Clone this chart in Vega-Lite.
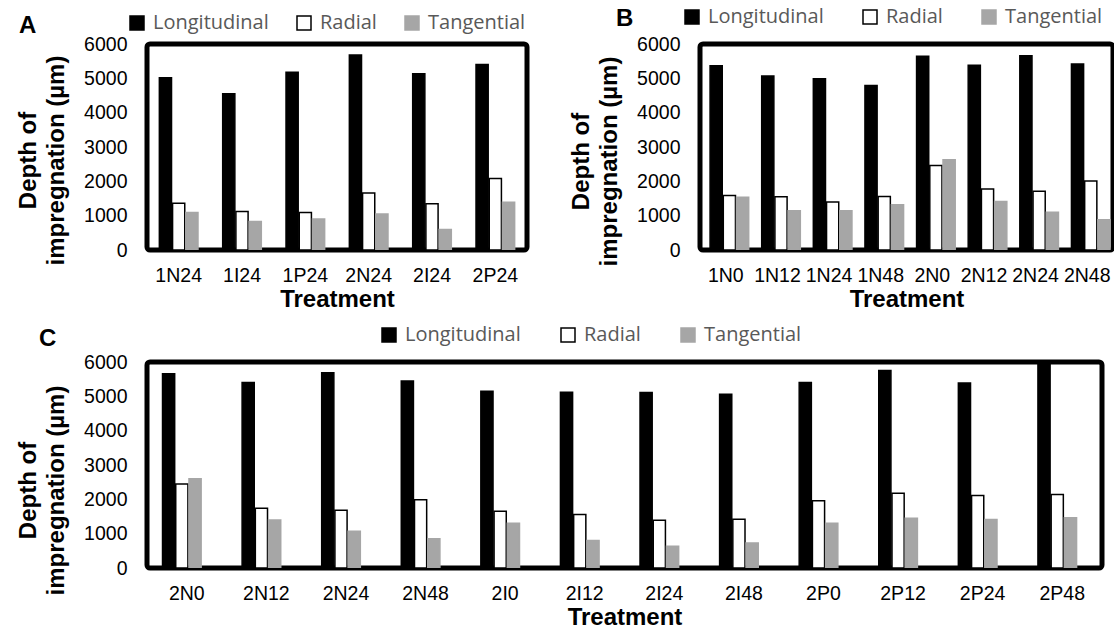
{
  "$schema": "https://vega.github.io/schema/vega-lite/v6.json",
  "padding": {"left": 14, "top": 4, "right": 0, "bottom": 0},
  "background": "white",
  "datasets": {
    "A": [
      {"t":"1N24","d":"Longitudinal","v":5020},{"t":"1N24","d":"Radial","v":1360},{"t":"1N24","d":"Tangential","v":1090},
      {"t":"1I24","d":"Longitudinal","v":4550},{"t":"1I24","d":"Radial","v":1120},{"t":"1I24","d":"Tangential","v":830},
      {"t":"1P24","d":"Longitudinal","v":5180},{"t":"1P24","d":"Radial","v":1090},{"t":"1P24","d":"Tangential","v":900},
      {"t":"2N24","d":"Longitudinal","v":5680},{"t":"2N24","d":"Radial","v":1660},{"t":"2N24","d":"Tangential","v":1050},
      {"t":"2I24","d":"Longitudinal","v":5130},{"t":"2I24","d":"Radial","v":1350},{"t":"2I24","d":"Tangential","v":600},
      {"t":"2P24","d":"Longitudinal","v":5400},{"t":"2P24","d":"Radial","v":2080},{"t":"2P24","d":"Tangential","v":1390}
    ],
    "B": [
      {"t":"1N0","d":"Longitudinal","v":5370},{"t":"1N0","d":"Radial","v":1590},{"t":"1N0","d":"Tangential","v":1540},
      {"t":"1N12","d":"Longitudinal","v":5070},{"t":"1N12","d":"Radial","v":1550},{"t":"1N12","d":"Tangential","v":1140},
      {"t":"1N24","d":"Longitudinal","v":4990},{"t":"1N24","d":"Radial","v":1400},{"t":"1N24","d":"Tangential","v":1140},
      {"t":"1N48","d":"Longitudinal","v":4790},{"t":"1N48","d":"Radial","v":1560},{"t":"1N48","d":"Tangential","v":1320},
      {"t":"2N0","d":"Longitudinal","v":5640},{"t":"2N0","d":"Radial","v":2460},{"t":"2N0","d":"Tangential","v":2630},
      {"t":"2N12","d":"Longitudinal","v":5380},{"t":"2N12","d":"Radial","v":1780},{"t":"2N12","d":"Tangential","v":1410},
      {"t":"2N24","d":"Longitudinal","v":5660},{"t":"2N24","d":"Radial","v":1710},{"t":"2N24","d":"Tangential","v":1100},
      {"t":"2N48","d":"Longitudinal","v":5420},{"t":"2N48","d":"Radial","v":2010},{"t":"2N48","d":"Tangential","v":880}
    ],
    "C": [
      {"t":"2N0","d":"Longitudinal","v":5660},{"t":"2N0","d":"Radial","v":2450},{"t":"2N0","d":"Tangential","v":2600},
      {"t":"2N12","d":"Longitudinal","v":5400},{"t":"2N12","d":"Radial","v":1740},{"t":"2N12","d":"Tangential","v":1400},
      {"t":"2N24","d":"Longitudinal","v":5690},{"t":"2N24","d":"Radial","v":1680},{"t":"2N24","d":"Tangential","v":1070},
      {"t":"2N48","d":"Longitudinal","v":5450},{"t":"2N48","d":"Radial","v":1990},{"t":"2N48","d":"Tangential","v":850},
      {"t":"2I0","d":"Longitudinal","v":5150},{"t":"2I0","d":"Radial","v":1650},{"t":"2I0","d":"Tangential","v":1300},
      {"t":"2I12","d":"Longitudinal","v":5120},{"t":"2I12","d":"Radial","v":1560},{"t":"2I12","d":"Tangential","v":800},
      {"t":"2I24","d":"Longitudinal","v":5110},{"t":"2I24","d":"Radial","v":1390},{"t":"2I24","d":"Tangential","v":630},
      {"t":"2I48","d":"Longitudinal","v":5060},{"t":"2I48","d":"Radial","v":1420},{"t":"2I48","d":"Tangential","v":730},
      {"t":"2P0","d":"Longitudinal","v":5400},{"t":"2P0","d":"Radial","v":1960},{"t":"2P0","d":"Tangential","v":1300},
      {"t":"2P12","d":"Longitudinal","v":5750},{"t":"2P12","d":"Radial","v":2180},{"t":"2P12","d":"Tangential","v":1450},
      {"t":"2P24","d":"Longitudinal","v":5390},{"t":"2P24","d":"Radial","v":2110},{"t":"2P24","d":"Tangential","v":1410},
      {"t":"2P48","d":"Longitudinal","v":6300},{"t":"2P48","d":"Radial","v":2140},{"t":"2P48","d":"Tangential","v":1460}
    ]
  },
  "vconcat": [
    {
      "hconcat": [
        {
          "data": {"name": "A"},
          "width": 380, "height": 206,
          "title": {"text": "A", "dx": -128, "dy": 29},
          "mark": {"type": "bar", "strokeWidth": 1.5, "clip": true},
          "encoding": {
            "x": {"field": "t", "type": "nominal", "sort": null, "scale": {"paddingInner": 0.39, "paddingOuter": 0.195}, "axis": {"title": "Treatment"}},
            "xOffset": {"field": "d", "type": "nominal", "sort": ["Longitudinal","Radial","Tangential"], "scale": {"paddingInner": 0.08}},
            "y": {"field": "v", "type": "quantitative", "scale": {"domain": [0, 6000], "nice": false}, "axis": {"title": ["Depth of", "impregnation (µm)"], "titleY": 116}},
            "fill": {"field": "d", "type": "nominal", "scale": {"domain": ["Longitudinal","Radial","Tangential"], "range": ["#000000","#ffffff","#a6a6a6"]}, "legend": {"legendX": -20, "legendY": -31, "columnPadding": 25}},
            "stroke": {"field": "d", "type": "nominal", "scale": {"domain": ["Longitudinal","Radial","Tangential"], "range": ["#000000","#000000","#a6a6a6"]}, "legend": {"legendX": -20, "legendY": -31, "columnPadding": 25}}
          }
        },
        {
          "data": {"name": "B"},
          "width": 413, "height": 206,
          "title": {"text": "B", "dx": -84, "dy": 28},
          "mark": {"type": "bar", "strokeWidth": 1.5, "clip": true},
          "encoding": {
            "x": {"field": "t", "type": "nominal", "sort": null, "scale": {"paddingInner": 0.39, "paddingOuter": 0.195}, "axis": {"title": "Treatment"}},
            "xOffset": {"field": "d", "type": "nominal", "sort": ["Longitudinal","Radial","Tangential"], "scale": {"paddingInner": 0.08}},
            "y": {"field": "v", "type": "quantitative", "scale": {"domain": [0, 6000], "nice": false}, "axis": {"title": ["Depth of", "impregnation (µm)"], "titleY": 117}},
            "fill": {"field": "d", "type": "nominal", "scale": {"domain": ["Longitudinal","Radial","Tangential"], "range": ["#000000","#ffffff","#a6a6a6"]}, "legend": {"legendX": -18, "legendY": -37, "columnPadding": 36}},
            "stroke": {"field": "d", "type": "nominal", "scale": {"domain": ["Longitudinal","Radial","Tangential"], "range": ["#000000","#000000","#a6a6a6"]}, "legend": {"legendX": -18, "legendY": -37, "columnPadding": 36}}
          }
        }
      ],
      "spacing": 37,
      "resolve": {"scale": {"fill": "independent", "stroke": "independent"}, "legend": {"fill": "independent", "stroke": "independent"}}
    },
    {
      "data": {"name": "C"},
      "width": 955, "height": 206,
      "title": {"text": "C", "dx": -108, "dy": 30},
      "mark": {"type": "bar", "strokeWidth": 1.5, "clip": true},
      "encoding": {
        "x": {"field": "t", "type": "nominal", "sort": null, "scale": {"paddingInner": 0.39, "paddingOuter": 0.195}, "axis": {"title": "Treatment"}},
        "xOffset": {"field": "d", "type": "nominal", "sort": ["Longitudinal","Radial","Tangential"], "scale": {"paddingInner": 0.08}},
        "y": {"field": "v", "type": "quantitative", "scale": {"domain": [0, 6000], "nice": false}, "axis": {"title": ["Depth of", "impregnation (µm)"], "titleY": 128}},
        "fill": {"field": "d", "type": "nominal", "scale": {"domain": ["Longitudinal","Radial","Tangential"], "range": ["#000000","#ffffff","#a6a6a6"]}, "legend": {"legendX": 232, "legendY": -37, "columnPadding": 37}},
        "stroke": {"field": "d", "type": "nominal", "scale": {"domain": ["Longitudinal","Radial","Tangential"], "range": ["#000000","#000000","#a6a6a6"]}, "legend": {"legendX": 232, "legendY": -37, "columnPadding": 37}}
      }
    }
  ],
  "spacing": 8,
  "resolve": {"scale": {"fill": "independent", "stroke": "independent"}, "legend": {"fill": "independent", "stroke": "independent"}},
  "config": {
    "view": {"stroke": "#000000", "strokeWidth": 5, "cornerRadius": 3},
    "title": {"font": "Liberation Sans", "fontSize": 24, "fontWeight": "bold", "color": "#000000", "anchor": "start", "frame": "group", "offset": 0},
    "axis": {
      "labelFont": "Liberation Sans", "labelFontSize": 19.5, "labelColor": "#000000",
      "titleFont": "Liberation Sans", "titleFontSize": 24, "titleFontWeight": "bold", "titleColor": "#000000",
      "grid": false, "ticks": false, "domain": false
    },
    "axisX": {"labelAngle": 0, "labelPadding": 16, "titlePadding": 3, "labelOverlap": false, "labelBound": false, "labelFlush": false},
    "axisY": {"values": [0,1000,2000,3000,4000,5000,6000], "format": "d", "labelPadding": 20, "titlePadding": 15, "titleLineHeight": 28},
    "legend": {
      "orient": "none", "direction": "horizontal", "title": null,
      "symbolType": "square", "symbolSize": 196, "symbolStrokeWidth": 1.5, "symbolOpacity": 1,
      "labelFont": "Open Sans", "labelFontSize": 20, "labelColor": "#595959", "labelOffset": 6, "padding": 0
    }
  }
}
